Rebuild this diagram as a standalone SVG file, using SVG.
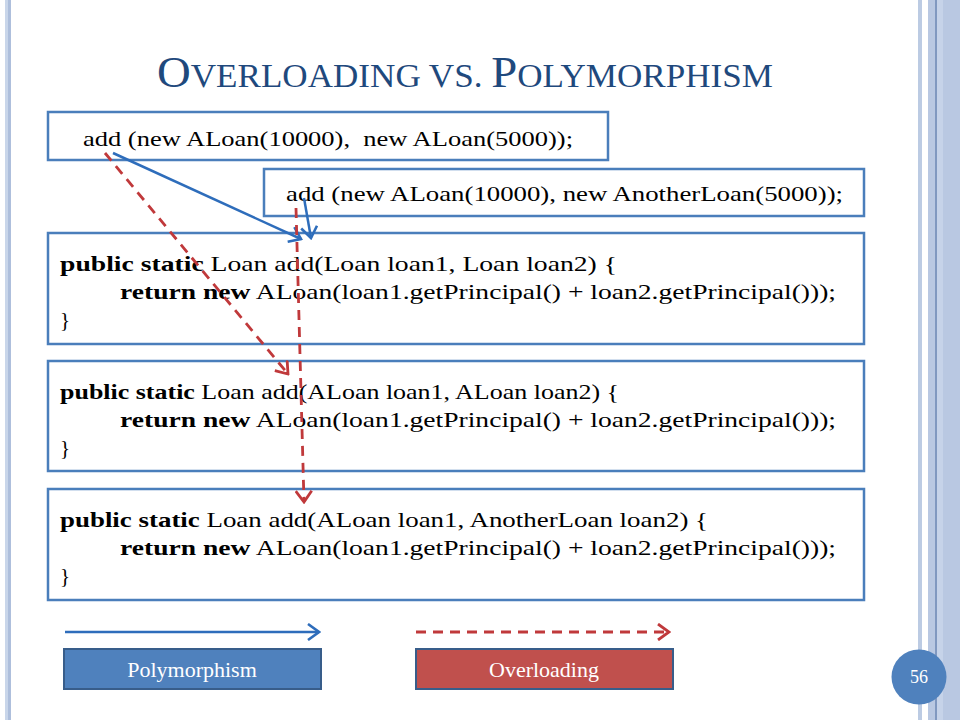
<svg xmlns="http://www.w3.org/2000/svg" width="960" height="720" viewBox="0 0 960 720">
<defs>
<style>
.box{fill:#ffffff;stroke:#4a7ebb;stroke-width:2.5}
.code{font-family:"Liberation Serif","DejaVu Serif",serif;font-size:21px;fill:#000}
.b{font-weight:bold}
.blue{fill:none;stroke:#2e6dbb;stroke-width:2.5}
.red{fill:none;stroke:#c0393b;stroke-width:2.8;stroke-dasharray:10 7}
.leg{font-family:"Liberation Serif","DejaVu Serif",serif;font-size:22px;fill:#fff;text-anchor:middle}
</style>
<marker id="ab" viewBox="0 0 14 18" refX="12" refY="9" markerWidth="14" markerHeight="18" markerUnits="userSpaceOnUse" orient="auto">
<path d="M1,1 L12,9 L1,17" fill="none" stroke="#2e6dbb" stroke-width="2.6"/>
</marker>
<marker id="ar" viewBox="0 0 14 18" refX="12" refY="9" markerWidth="14" markerHeight="18" markerUnits="userSpaceOnUse" orient="auto">
<path d="M1,1 L12,9 L1,17" fill="none" stroke="#c0393b" stroke-width="2.8"/>
</marker>
</defs>
<rect width="960" height="720" fill="#fff"/>
<g id="frame">
<rect x="5" y="0" width="6" height="720" fill="#c9d6ea"/>
<rect x="8" y="0" width="3" height="720" fill="#aebfdc"/>
<rect x="918" y="0" width="4" height="720" fill="#bccbe3"/>
<rect x="928" y="0" width="32" height="720" fill="#b9c8e2"/>
<rect x="937" y="0" width="6" height="720" fill="#c6d3e9"/>
<line x1="936" y1="0" x2="936" y2="720" stroke="#5a78aa" stroke-width="1.2"/>
</g>
<g id="title">
<text x="157" y="87" textLength="616" lengthAdjust="spacingAndGlyphs" font-family="Liberation Serif, DejaVu Serif, serif" fill="#1f497d" font-size="33"><tspan font-size="44">O</tspan>VERLOADING VS. <tspan font-size="44">P</tspan>OLYMORPHISM</text>
</g>
<g id="call1">
<rect class="box" x="48" y="112" width="560" height="48"/>
<text class="code" x="83" y="146" textLength="490" lengthAdjust="spacingAndGlyphs" xml:space="preserve">add (new ALoan(10000),  new ALoan(5000));</text>
</g>
<g id="call2">
<rect class="box" x="264" y="169" width="600" height="47"/>
<text class="code" x="286" y="201" textLength="557" lengthAdjust="spacingAndGlyphs">add (new ALoan(10000), new AnotherLoan(5000));</text>
</g>
<g id="method1">
<rect class="box" x="48" y="233" width="816" height="111"/>
<text class="code" x="60" y="271" textLength="557" lengthAdjust="spacingAndGlyphs"><tspan class="b">public static</tspan> Loan add(Loan loan1, Loan loan2) {</text>
<text class="code" x="120" y="299" textLength="716" lengthAdjust="spacingAndGlyphs"><tspan class="b">return new</tspan> ALoan(loan1.getPrincipal() + loan2.getPrincipal()));</text>
<text class="code" x="60" y="327">}</text>
</g>
<g id="method2">
<rect class="box" x="48" y="361" width="816" height="110"/>
<text class="code" x="60" y="399" textLength="559" lengthAdjust="spacingAndGlyphs"><tspan class="b">public static</tspan> Loan add(ALoan loan1, ALoan loan2) {</text>
<text class="code" x="120" y="427" textLength="716" lengthAdjust="spacingAndGlyphs"><tspan class="b">return new</tspan> ALoan(loan1.getPrincipal() + loan2.getPrincipal()));</text>
<text class="code" x="60" y="455">}</text>
</g>
<g id="method3">
<rect class="box" x="48" y="489" width="816" height="111"/>
<text class="code" x="60" y="527" textLength="648" lengthAdjust="spacingAndGlyphs"><tspan class="b">public static</tspan> Loan add(ALoan loan1, AnotherLoan loan2) {</text>
<text class="code" x="120" y="555" textLength="716" lengthAdjust="spacingAndGlyphs"><tspan class="b">return new</tspan> ALoan(loan1.getPrincipal() + loan2.getPrincipal()));</text>
<text class="code" x="60" y="583">}</text>
</g>
<g id="connectors">
<line class="blue" x1="113" y1="153" x2="301" y2="239" marker-end="url(#ab)"/>
<line class="blue" x1="304" y1="198" x2="311" y2="238" marker-end="url(#ab)"/>
<line class="red" x1="105" y1="153" x2="288" y2="374" marker-end="url(#ar)"/>
<line class="red" x1="296" y1="208" x2="304" y2="502" marker-end="url(#ar)"/>
<line class="blue" x1="65" y1="632" x2="319" y2="632" marker-end="url(#ab)"/>
<line class="red" x1="416" y1="632" x2="669" y2="632" marker-end="url(#ar)"/>
</g>
<g id="legend-polymorphism">
<rect x="64" y="649" width="257" height="40" fill="#4f81bd" stroke="#385d8a" stroke-width="2"/>
<text class="leg" x="192" y="677">Polymorphism</text>
</g>
<g id="legend-overloading">
<rect x="416" y="649" width="257" height="40" fill="#c0504d" stroke="#385d8a" stroke-width="2"/>
<text class="leg" x="544" y="677">Overloading</text>
</g>
<g id="page">
<circle cx="919" cy="677" r="27.5" fill="#4f81bd"/>
<text x="919" y="683" font-family="Liberation Serif, DejaVu Serif, serif" font-size="18" fill="#fff" text-anchor="middle">56</text>
</g>
</svg>
